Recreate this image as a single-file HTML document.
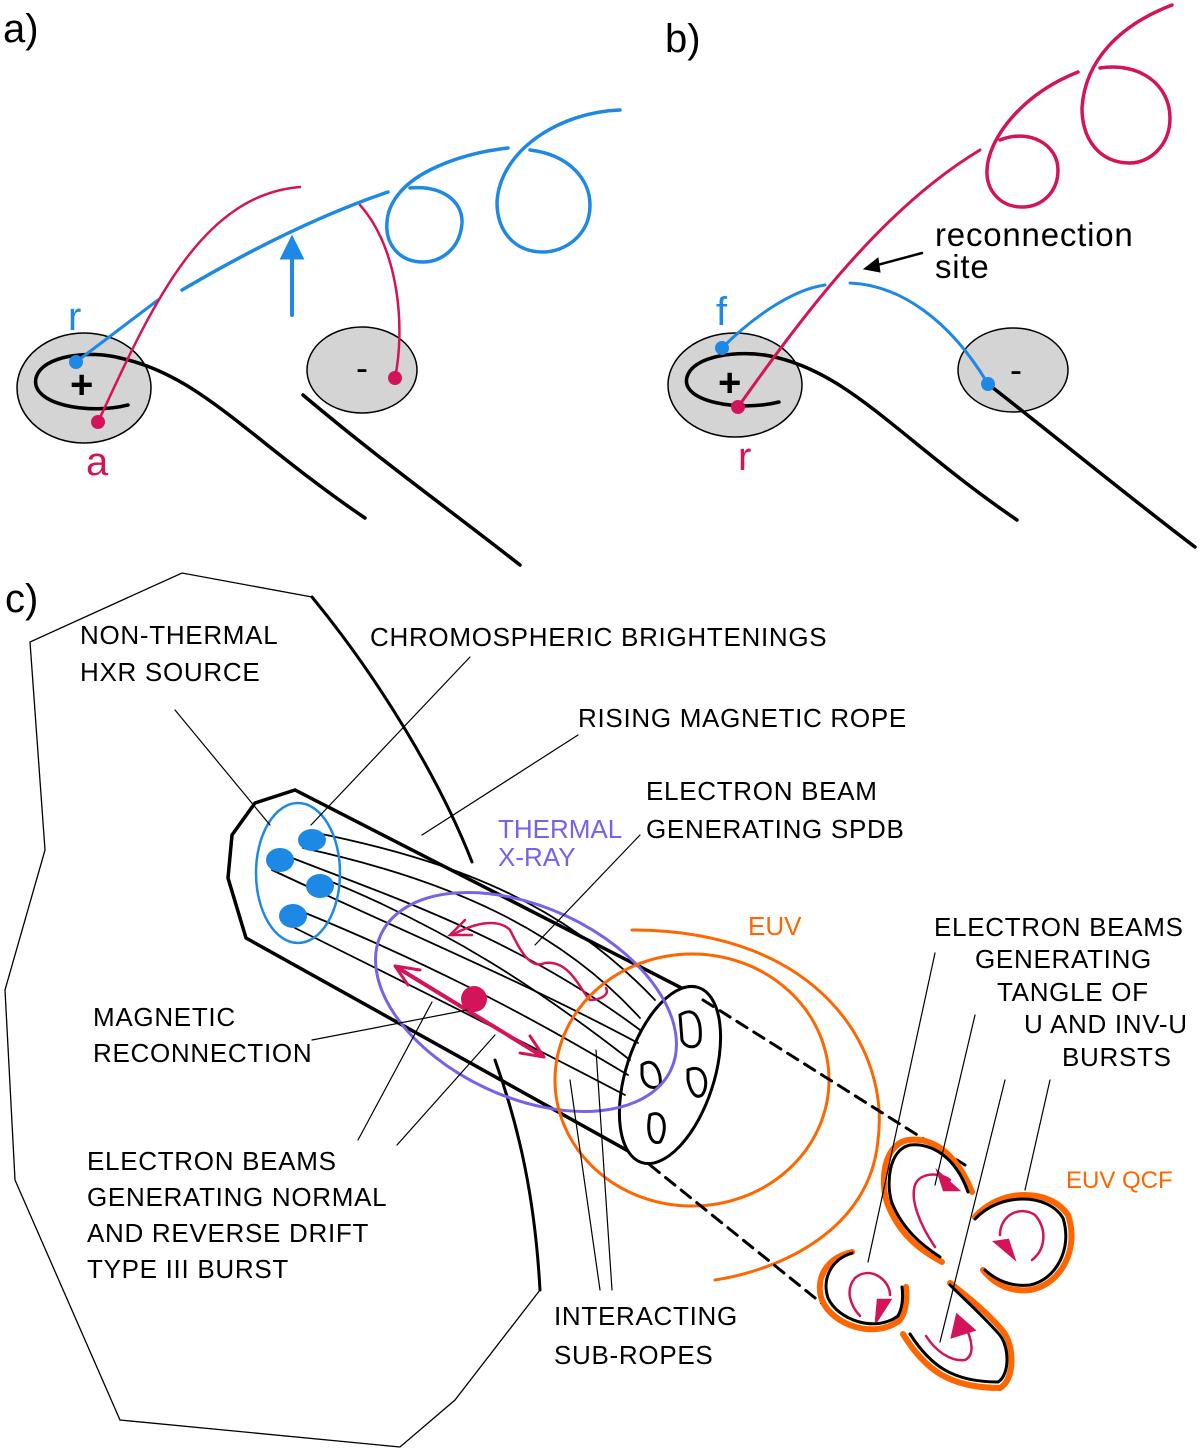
<!DOCTYPE html>
<html><head><style>
body{margin:0;background:#fff}
svg text{font-family:"Liberation Sans","DejaVu Sans",sans-serif}
</style></head><body>
<svg width="1200" height="1451" viewBox="0 0 1200 1451" xmlns="http://www.w3.org/2000/svg">
<g fill="none" stroke-linecap="round">
<!-- panel a -->
<text x="3" y="42" font-size="40" fill="#000" stroke="none">a)</text>
<ellipse cx="84" cy="388" rx="67" ry="55" fill="#d4d4d4" stroke="#000" stroke-width="1.5"/>
<ellipse cx="362" cy="370" rx="55" ry="43" fill="#d4d4d4" stroke="#000" stroke-width="1.5"/>
<path d="M128,405 C90,415 30,405 36,378 C42,355 90,350 120,358 C200,375 250,440 365,518" stroke="#000" stroke-width="3.5"/>
<path d="M303,395 C380,460 450,510 520,565" stroke="#000" stroke-width="3.5"/>
<text x="70" y="398" font-size="40" font-weight="bold" fill="#000" stroke="none">+</text>
<text x="356" y="380" font-size="36" fill="#000" stroke="none">-</text>
<path d="M76,362 L158,300" stroke="#1e88e5" stroke-width="3"/>
<path d="M182,290 C250,250 320,215 388,192" stroke="#1e88e5" stroke-width="3.5"/>
<path d="M410,188 C440,185 463,200 462,223 C460,250 440,262 423,262 C400,262 385,245 387,222 C388,205 400,185 430,170 C460,155 490,150 508,148" stroke="#1e88e5" stroke-width="3.5"/>
<path d="M530,150 C570,155 590,180 590,205 C590,235 565,252 543,252 C515,252 497,232 497,202 C500,150 560,112 620,110" stroke="#1e88e5" stroke-width="3.5"/>
<path d="M292,315 L292,250" stroke="#1e88e5" stroke-width="4"/>
<path d="M282,258 L292,238 L302,258 Z" fill="#1e88e5" stroke="#1e88e5" stroke-width="3"/>
<path d="M98,422 C150,310 200,195 300,187" stroke="#d4145a" stroke-width="2.5"/>
<path d="M360,205 C400,250 405,330 395,378" stroke="#d4145a" stroke-width="2.5"/>
<circle cx="76" cy="362" r="7" fill="#1e88e5" stroke="none"/>
<circle cx="98" cy="422" r="7" fill="#d4145a" stroke="none"/>
<circle cx="395" cy="378" r="7" fill="#d4145a" stroke="none"/>
<text x="68" y="330" font-size="40" fill="#1e88e5" stroke="none">r</text>
<text x="86" y="475" font-size="40" fill="#d4145a" stroke="none">a</text>
<!-- panel b -->
<text x="665" y="52" font-size="40" fill="#000" stroke="none">b)</text>
<ellipse cx="735" cy="385" rx="67" ry="52" fill="#d4d4d4" stroke="#000" stroke-width="1.5"/>
<ellipse cx="1013" cy="370" rx="55" ry="42" fill="#d4d4d4" stroke="#000" stroke-width="1.5"/>
<path d="M779,402 C740,412 680,402 687,377 C693,355 740,350 770,356 C850,372 900,440 1017,520" stroke="#000" stroke-width="3.5"/>
<path d="M988,384 C1060,440 1120,490 1195,547" stroke="#000" stroke-width="3.5"/>
<text x="718" y="396" font-size="40" font-weight="bold" fill="#000" stroke="none">+</text>
<text x="1010" y="382" font-size="36" fill="#000" stroke="none">-</text>
<path d="M722,348 C750,320 790,290 825,285" stroke="#1e88e5" stroke-width="3"/>
<path d="M850,283 C900,285 950,320 988,384" stroke="#1e88e5" stroke-width="3"/>
<path d="M738,407 C800,320 880,210 980,150" stroke="#d4145a" stroke-width="3"/>
<path d="M1000,140 C1030,128 1058,145 1058,170 C1058,192 1042,207 1022,207 C1000,207 986,190 987,170 C988,140 1020,95 1078,72" stroke="#d4145a" stroke-width="3.5"/>
<path d="M1100,68 C1140,62 1170,85 1170,118 C1170,145 1150,163 1130,163 C1100,163 1082,140 1082,108 C1085,60 1120,25 1172,5" stroke="#d4145a" stroke-width="3.5"/>
<circle cx="722" cy="348" r="7" fill="#1e88e5" stroke="none"/>
<circle cx="988" cy="384" r="7" fill="#1e88e5" stroke="none"/>
<circle cx="738" cy="407" r="7" fill="#d4145a" stroke="none"/>
<text x="716" y="325" font-size="40" fill="#1e88e5" stroke="none">f</text>
<text x="738" y="470" font-size="40" fill="#d4145a" stroke="none">r</text>
<path d="M922,253 L870,267" stroke="#000" stroke-width="2.5"/>
<path d="M864,269 L878,258 L880,272 Z" fill="#000" stroke="#000"/>
<text x="935" y="246" font-size="33" letter-spacing="0.8" fill="#000" stroke="none">reconnection</text>
<text x="935" y="278" font-size="33" letter-spacing="0.8" fill="#000" stroke="none">site</text>
<!-- panel c -->
<text x="5" y="612" font-size="40" fill="#000" stroke="none">c)</text>
<path d="M312,597 L182,573 L30,642 L45,850 L5,990 L15,1180 L120,1420 L400,1447 L455,1400 L540,1290" stroke="#000" stroke-width="1.3"/>
<path d="M312,597 C380,680 440,780 472,862" stroke="#000" stroke-width="3"/>
<path d="M495,1060 C520,1130 535,1200 540,1290" stroke="#000" stroke-width="3"/>
<!-- tube -->
<path d="M705,1000 L295,790 L255,803 L232,835 L228,878 L246,938 L648,1162" stroke="#000" stroke-width="3.5"/>
<ellipse cx="670" cy="1075" rx="44" ry="92" transform="rotate(18 670 1075)" fill="#fff" stroke="#000" stroke-width="3"/>
<g stroke="#000" stroke-width="3">
<path d="M680,1015 C695,1005 702,1020 700,1040 C697,1050 685,1048 682,1040 Z"/>
<path d="M642,1065 C655,1055 662,1075 660,1085 C655,1090 644,1088 642,1075 Z"/>
<path d="M688,1070 C705,1062 710,1085 702,1095 C695,1100 690,1090 688,1080 Z"/>
<path d="M650,1115 C665,1108 668,1130 660,1142 C652,1145 646,1135 650,1115 Z"/>
</g>
<g stroke="#000" stroke-width="1.8">
<path d="M312,832 C450,860 560,900 655,1000"/>
<path d="M303,848 C450,880 560,930 640,1018"/>
<path d="M287,856 C400,900 520,940 640,1030"/>
<path d="M272,870 C400,930 520,980 638,1043"/>
<path d="M327,880 C450,930 540,990 630,1060"/>
<path d="M303,912 C420,960 520,1010 628,1075"/>
<path d="M295,928 C400,980 520,1040 625,1095"/>
</g>
<g fill="#1e88e5" stroke="none">
<ellipse cx="312" cy="840" rx="14" ry="11"/>
<ellipse cx="280" cy="860" rx="14" ry="12"/>
<ellipse cx="320" cy="886" rx="14" ry="12"/>
<ellipse cx="293" cy="916" rx="14" ry="12"/>
</g>
<ellipse cx="298" cy="873" rx="42" ry="70" stroke="#1e88e5" stroke-width="2.5"/>
<ellipse cx="526" cy="1002" rx="160" ry="95" transform="rotate(25 526 1002)" stroke="#7b61e6" stroke-width="3"/>
<path d="M452,935 C480,920 500,920 510,930 C520,950 530,970 545,963 C570,960 580,990 590,1000 C600,1000 610,995 606,988" stroke="#d4145a" stroke-width="2.5"/>
<path d="M465,920 L450,935 L472,935" stroke="#d4145a" stroke-width="2.5"/>
<path d="M398,968 L542,1056" stroke="#d4145a" stroke-width="4"/>
<path d="M395,966 L420,970 M395,966 L408,985 M544,1057 L520,1053 M544,1057 L530,1036" stroke="#d4145a" stroke-width="3"/>
<circle cx="474" cy="999" r="13" fill="#d4145a" stroke="none"/>
<!-- orange -->
<path d="M632,930 C820,930 890,1050 878,1140 C870,1230 780,1270 715,1280" stroke="#ff6600" stroke-width="3"/>
<ellipse cx="692" cy="1080" rx="137" ry="126" stroke="#ff6600" stroke-width="3"/>
<path d="M703,1000 L965,1165" stroke="#000" stroke-width="3" stroke-dasharray="12,8"/>
<path d="M650,1165 L830,1310" stroke="#000" stroke-width="3" stroke-dasharray="12,8"/>
<!-- QCF loops -->
<g stroke="#ff6600" stroke-width="6">
<path d="M972,1192 C955,1150 930,1137 908,1140 C882,1145 880,1185 888,1205 C900,1235 920,1250 942,1262"/>
<path d="M975,1217 C1000,1188 1050,1188 1068,1215 C1080,1250 1060,1285 1030,1290 C1010,1292 995,1285 983,1270"/>
<path d="M852,1252 C825,1258 815,1280 822,1300 C832,1325 875,1340 900,1320 C907,1310 907,1295 906,1287"/>
<path d="M903,1334 C925,1370 950,1388 1000,1388 C1015,1380 1015,1345 1002,1330 C985,1310 965,1295 950,1283"/>
</g>
<g stroke="#000" stroke-width="3">
<path d="M968,1192 C955,1155 930,1143 910,1145 C888,1150 886,1185 892,1203 C903,1230 922,1245 940,1257"/>
<path d="M975,1219 C1000,1192 1048,1193 1063,1218 C1073,1250 1055,1280 1030,1285 C1010,1287 996,1280 985,1270"/>
<path d="M852,1253 C830,1260 822,1280 828,1298 C838,1320 875,1333 898,1316 C903,1307 903,1295 902,1287"/>
<path d="M910,1334 C930,1365 952,1382 998,1382 C1010,1375 1010,1345 998,1333 C982,1315 963,1298 950,1285"/>
</g>
<g stroke="#d4145a" stroke-width="2.5">
<path d="M935,1247 C920,1225 910,1200 915,1185 C920,1172 940,1172 950,1180"/>
<path d="M958,1190 L938,1172 L944,1190 Z" fill="#d4145a"/>
<path d="M1032,1260 C1045,1250 1048,1230 1035,1215 C1020,1205 1000,1215 1000,1235"/>
<path d="M1014,1258 L995,1242 L1008,1240 Z" fill="#d4145a"/>
<path d="M860,1316 C850,1305 845,1290 855,1278 C870,1265 890,1280 890,1295"/>
<path d="M876,1322 L890,1300 L878,1300 Z" fill="#d4145a"/>
<path d="M926,1336 C935,1350 950,1362 965,1360 C975,1355 972,1340 966,1328"/>
<path d="M957,1315 L952,1337 L974,1330 Z" fill="#d4145a"/>
</g>
<!-- leader lines -->
<g stroke="#000" stroke-width="1.2">
<path d="M175,710 L270,825"/>
<path d="M470,657 L311,825"/>
<path d="M578,735 L422,835"/>
<path d="M640,835 L535,945"/>
<path d="M312,1040 L467,1010"/>
<path d="M358,1140 L432,1002"/>
<path d="M397,1145 L495,1035"/>
<path d="M600,1290 L570,1080"/>
<path d="M612,1290 L596,1050"/>
<path d="M935,953 L868,1262"/>
<path d="M975,1015 L935,1185"/>
<path d="M1005,1080 L940,1342"/>
<path d="M1050,1080 L1025,1190"/>
</g>
</g>
<g font-size="26" fill="#000" letter-spacing="0.7">
<text x="80" y="644">NON-THERMAL</text>
<text x="80" y="681">HXR SOURCE</text>
<text x="370" y="646">CHROMOSPHERIC  BRIGHTENINGS</text>
<text x="578" y="727">RISING  MAGNETIC  ROPE</text>
<text x="646" y="800">ELECTRON  BEAM</text>
<text x="646" y="838">GENERATING SPDB</text>
<text x="93" y="1026">MAGNETIC</text>
<text x="93" y="1062">RECONNECTION</text>
<text x="87" y="1170">ELECTRON  BEAMS</text>
<text x="87" y="1206">GENERATING NORMAL</text>
<text x="87" y="1242">AND REVERSE DRIFT</text>
<text x="87" y="1278">TYPE III BURST</text>
<text x="554" y="1325">INTERACTING</text>
<text x="554" y="1364">SUB-ROPES</text>
<text x="934" y="936">ELECTRON BEAMS</text>
<text x="975" y="968">GENERATING</text>
<text x="997" y="1001">TANGLE  OF</text>
<text x="1024" y="1033">U AND INV-U</text>
<text x="1062" y="1066">BURSTS</text>
<text x="498" y="838" fill="#7b61e6" letter-spacing="0">THERMAL</text>
<text x="498" y="866" fill="#7b61e6" letter-spacing="0">X-RAY</text>
<text x="748" y="935" fill="#ff6600" letter-spacing="0">EUV</text>
<text x="1066" y="1188" fill="#ff6600" font-size="24" letter-spacing="0">EUV QCF</text>
</g>
</svg>
</body></html>
